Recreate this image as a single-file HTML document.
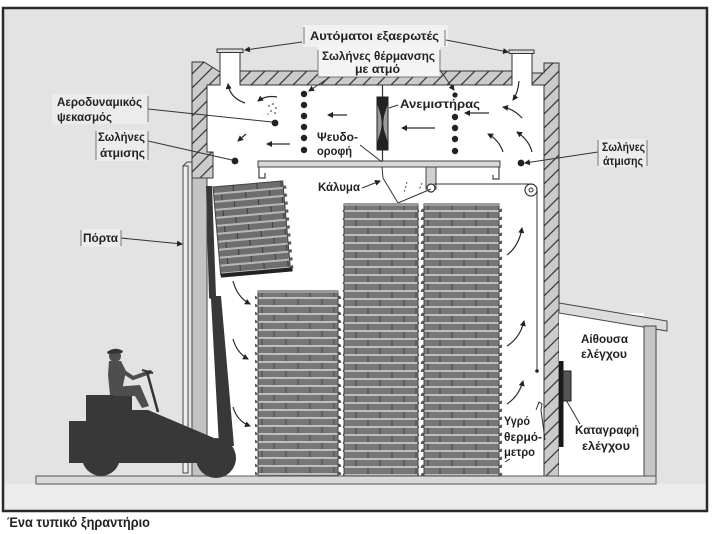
<!DOCTYPE html>
<html>
<head>
<meta charset="utf-8">
<style>
html,body{margin:0;padding:0;background:#fff;}
svg{display:block;}
</style>
</head>
<body>
<svg width="712" height="534" viewBox="0 0 712 534" xmlns="http://www.w3.org/2000/svg">
<defs>
  <pattern id="hatch" width="14" height="14" patternUnits="userSpaceOnUse">
    <rect width="14" height="14" fill="#cbcbcb"/>
    <path d="M-3,3 L3,-3 M0,14 L14,0 M11,17 L17,11" stroke="#3a3a3a" stroke-width="1.3"/>
  </pattern>
  <pattern id="bdA" x="0" y="204" width="48" height="16" patternUnits="userSpaceOnUse">
    <rect width="48" height="16" fill="#777"/>
    <rect y="6" width="48" height="2" fill="#bebebe"/>
    <rect y="14" width="48" height="2" fill="#bebebe"/>
    <path d="M20,0 V6 M44,0 V6 M8,8 V14 M32,8 V14" stroke="#444" stroke-width="1"/>
  </pattern>
  <pattern id="bdC" x="2" y="291" width="48" height="16" patternUnits="userSpaceOnUse">
    <rect width="48" height="16" fill="#777"/>
    <rect y="6" width="48" height="2" fill="#bebebe"/>
    <rect y="14" width="48" height="2" fill="#bebebe"/>
    <path d="M20,0 V6 M44,0 V6 M8,8 V14 M32,8 V14" stroke="#444" stroke-width="1"/>
  </pattern>
  <pattern id="bdT" x="213" y="187" width="48" height="16" patternUnits="userSpaceOnUse">
    <rect width="48" height="16" fill="#6e6e6e"/>
    <rect y="6" width="48" height="2" fill="#b8b8b8"/>
    <rect y="14" width="48" height="2" fill="#b8b8b8"/>
    <path d="M20,0 V6 M44,0 V6 M8,8 V14 M32,8 V14" stroke="#3c3c3c" stroke-width="1"/>
  </pattern>
  <pattern id="bumpA" x="0" y="204" width="6" height="8" patternUnits="userSpaceOnUse">
    <circle cx="3" cy="7" r="2.2" fill="#5a5a5a"/>
  </pattern>
  <pattern id="bumpC" x="0" y="291" width="6" height="8" patternUnits="userSpaceOnUse">
    <circle cx="3" cy="7" r="2.2" fill="#5a5a5a"/>
  </pattern>
  <pattern id="bumpT" x="0" y="187" width="6" height="8" patternUnits="userSpaceOnUse">
    <circle cx="3" cy="7" r="2.2" fill="#5a5a5a"/>
  </pattern>
  <marker id="ah" markerWidth="6" markerHeight="6" refX="5" refY="3" orient="auto" markerUnits="userSpaceOnUse">
    <path d="M0,0 L6,3 L0,6 z" fill="#222"/>
  </marker>
</defs>

<!-- page + frame -->
<rect width="712" height="534" fill="#fff"/>
<rect x="3" y="8" width="704" height="503" fill="#e3e3e3" stroke="#2a2a2a" stroke-width="2.5"/>
<rect x="4.5" y="484" width="701" height="25.5" fill="#ececec"/>

<!-- label patches (lighter paper) -->
<rect x="303" y="25" width="145" height="22" fill="#f1f1f1"/>
<rect x="318" y="46" width="122" height="31" fill="#f4f4f4"/>
<rect x="52" y="94" width="96" height="30" fill="#ececec"/>
<rect x="96" y="130" width="52" height="31" fill="#ececec"/>
<rect x="81" y="229" width="40" height="18" fill="#ececec"/>
<rect x="598" y="139" width="49" height="28" fill="#ececec"/>

<!-- kiln interior -->
<rect x="207" y="85" width="337" height="391" fill="#fff"/>
<!-- exhaust pipes -->
<rect x="220" y="52" width="20" height="33" fill="#fff" stroke="#333" stroke-width="1"/>
<rect x="217" y="49" width="26" height="3.5" fill="#ddd" stroke="#333" stroke-width="1"/>
<rect x="512" y="53" width="20" height="32" fill="#fff" stroke="#333" stroke-width="1"/>
<rect x="509" y="50" width="25" height="3.5" fill="#ddd" stroke="#333" stroke-width="1"/>
<rect x="219" y="84" width="22" height="2" fill="#fff"/>
<rect x="511" y="84" width="22" height="2" fill="#fff"/>

<!-- roof -->
<rect x="240" y="71" width="272" height="14" fill="url(#hatch)" stroke="#333" stroke-width="1"/>
<rect x="318.5" y="66" width="121" height="11" fill="#f4f4f4"/>
<line x1="318" y1="77" x2="440" y2="77" stroke="#555" stroke-width="0.8"/>

<!-- left wall -->
<polygon points="192,62 204,62 220,72 220,85 207,85 207,152 213,152 213,178 192,178" fill="url(#hatch)" stroke="#333" stroke-width="1"/>
<rect x="192" y="178" width="15" height="298" fill="#c3c3c3" stroke="#444" stroke-width="1"/>
<!-- door -->
<rect x="183" y="166" width="5" height="307" fill="#efefef" stroke="#444" stroke-width="1"/>
<path d="M183,166 L187,162 L192,162" fill="none" stroke="#444" stroke-width="1"/>

<!-- right wall -->
<polygon points="532,73 544,73 544,63 559,63 559,478 544,478 544,85 532,85" fill="url(#hatch)" stroke="#333" stroke-width="1"/>

<!-- control room -->
<rect x="559" y="313" width="85" height="163" fill="#fff"/>
<polygon points="559,303 667,321 667,331 559,313" fill="#dcdcdc" stroke="#444" stroke-width="1"/>
<rect x="644" y="326" width="12" height="150" fill="#c6c6c6" stroke="#444" stroke-width="1"/>
<rect x="559" y="361" width="4.5" height="86" fill="#1a1a1a"/>
<rect x="563" y="371" width="8" height="30" fill="#555" stroke="#222" stroke-width="1"/>
<line x1="566" y1="400" x2="580" y2="424" stroke="#333" stroke-width="1"/>

<!-- floor -->
<rect x="36" y="476" width="620" height="8" fill="#d9d9d9" stroke="#555" stroke-width="1"/>

<!-- false ceiling -->
<rect x="258" y="161" width="242" height="6" fill="#d8d8d8" stroke="#444" stroke-width="1"/>
<path d="M259,167 L259,178 L265,178 L265,173" fill="none" stroke="#444" stroke-width="1.2"/>
<path d="M499,167 L499,179 L493,179 L493,175" fill="none" stroke="#444" stroke-width="1.2"/>

<!-- fan -->
<line x1="382.5" y1="85" x2="382.5" y2="97" stroke="#333" stroke-width="1.2"/>
<line x1="382.5" y1="150" x2="382.5" y2="161" stroke="#333" stroke-width="1.2"/>
<rect x="377" y="97" width="11" height="53" fill="#9a9a9a" stroke="#222" stroke-width="1"/>
<path d="M377,97 L388,97 L388,103 L384,116 L383.2,123 L384,130 L388,143 L388,150 L377,150 L377,143 L381,130 L381.8,123 L381,116 L377,103 Z" fill="#222"/>

<!-- heating pipe dots -->
<g fill="#222">
  <circle cx="304" cy="94" r="3.2"/><circle cx="304" cy="105" r="3.2"/><circle cx="304" cy="116" r="3.2"/>
  <circle cx="304" cy="127" r="3.2"/><circle cx="304" cy="138" r="3.2"/><circle cx="304" cy="150" r="3.2"/>
  <circle cx="455" cy="95" r="2.6"/><circle cx="455" cy="117" r="3.2"/><circle cx="455" cy="128" r="3.2"/>
  <circle cx="455" cy="139" r="3.2"/><circle cx="455" cy="151" r="3.2"/>
  <circle cx="275" cy="123" r="3.4"/>
  <circle cx="235" cy="161" r="3.4"/>
  <circle cx="521" cy="163" r="3.4"/>
</g>
<!-- spray cloud -->
<g fill="#777">
  <circle cx="269" cy="106" r="1"/><circle cx="273" cy="104" r="1"/><circle cx="276" cy="108" r="1"/>
  <circle cx="271" cy="111" r="1"/><circle cx="275" cy="113" r="1"/><circle cx="268" cy="114" r="0.8"/>
</g>

<!-- hanger + pulleys -->
<rect x="426" y="167" width="10" height="22" fill="#d0d0d0" stroke="#444" stroke-width="1"/>
<circle cx="431" cy="188" r="4" fill="#fff" stroke="#333" stroke-width="1.2"/>
<line x1="434" y1="184" x2="530" y2="184" stroke="#333" stroke-width="1"/>
<circle cx="531" cy="190" r="6" fill="#fff" stroke="#333" stroke-width="1.2"/>
<circle cx="531" cy="190" r="2" fill="none" stroke="#333" stroke-width="1"/>
<line x1="537" y1="190" x2="537" y2="370" stroke="#333" stroke-width="1"/>
<circle cx="537" cy="371" r="1.8" fill="#222"/>
<!-- thermometer -->
<path d="M536,410 L539,402 L542,404 L541,410 Q543,425 545,440" fill="none" stroke="#333" stroke-width="1"/>

<!-- cover lines -->
<path d="M382,167 L383,178 L398,203 L431,189" fill="none" stroke="#333" stroke-width="1"/>
<path d="M407,182 L404,193 M422,183 L419,190" stroke="#555" stroke-width="1" stroke-dasharray="2,2"/>

<!-- stacks: bumps -->
<rect x="341" y="205" width="6" height="271" fill="url(#bumpA)"/>
<rect x="415" y="205" width="6" height="271" fill="url(#bumpA)"/>
<rect x="421" y="205" width="6" height="271" fill="url(#bumpA)"/>
<rect x="496" y="205" width="6" height="271" fill="url(#bumpA)"/>
<rect x="255" y="292" width="6" height="184" fill="url(#bumpC)"/>
<rect x="335" y="292" width="6" height="184" fill="url(#bumpC)"/>
<!-- stacks -->
<rect x="344" y="204" width="74" height="272" fill="url(#bdA)" stroke="#444" stroke-width="1"/>
<rect x="424" y="204" width="75" height="272" fill="url(#bdA)" stroke="#444" stroke-width="1"/>
<rect x="258" y="291" width="80" height="185" fill="url(#bdC)" stroke="#444" stroke-width="1"/>
<rect x="344" y="203" width="74" height="3" fill="#9a9a9a"/>
<rect x="424" y="203" width="75" height="3" fill="#9a9a9a"/>
<rect x="258" y="290" width="80" height="3" fill="#9a9a9a"/>

<!-- tilted stack on forklift -->
<g transform="rotate(-5 213 187)">
  <rect x="280" y="187" width="6" height="88" fill="url(#bumpT)"/>
  <rect x="213" y="187" width="70" height="88" fill="url(#bdT)" stroke="#444" stroke-width="1"/>
  <rect x="213" y="274" width="72" height="4" fill="#222"/>
</g>

<!-- forklift -->
<g fill="#383838">
  <polygon points="206,186 212,186 216,296 221,296 234,446 219,446 211,299 209,298"/>
  <polygon points="69,421 86,421 86,395 132,395 132,410 148,410 214,438 222,450 222,463 69,463"/>
  <circle cx="101" cy="457" r="19"/>
  <circle cx="216" cy="458" r="20"/>
</g>
<!-- driver -->
<g fill="#4e4e4e" stroke="none">
  <circle cx="115" cy="356" r="6"/>
  <path d="M107,352 Q115,346 123,351 L122,353 L108,354 Z" fill="#333"/>
  <polygon points="109,361 121,361 126,371 121,395 110,395 108,375"/>
  <polygon points="114,387 140,385 149,406 142,408 135,396 114,396"/>
</g>
<path d="M118,368 L133,378 L150,372" fill="none" stroke="#4e4e4e" stroke-width="4" stroke-linecap="round"/>
<line x1="147" y1="372" x2="158" y2="412" stroke="#333" stroke-width="2.5"/>
<line x1="142" y1="370" x2="153" y2="373" stroke="#333" stroke-width="2"/>

<!-- air flow arrows -->
<g fill="none" stroke="#2a2a2a" stroke-width="1.2" marker-end="url(#ah)">
  <path d="M245,103 Q230,98 228,84"/>
  <path d="M277,97 Q266,95 258,101"/>
  <path d="M246,134 L238,141"/>
  <path d="M290,144 L267,144"/>
  <path d="M347,115 L328,115"/>
  <path d="M435,128 L402,128"/>
  <path d="M489,113 L465,113"/>
  <path d="M519,81 Q518,93 513,100"/>
  <path d="M522,118 Q514,109 503,107"/>
  <path d="M503,152 Q499,140 488,134"/>
  <path d="M532,152 Q529,140 517,132"/>
  <path d="M233,281 Q237,297 250,304"/>
  <path d="M233,339 Q237,353 248,359"/>
  <path d="M233,407 Q237,421 250,426"/>
  <path d="M507,346 Q520,338 524,321"/>
  <path d="M507,404 Q519,396 523,381"/>
  <path d="M507,255 Q519,246 522,228"/>
</g>
<path d="M505,462 L510,459" stroke="#333" stroke-width="1"/>

<!-- leaders -->
<g fill="none" stroke="#333" stroke-width="1">
  <path d="M302,42 L245,50" marker-end="url(#ah)"/>
  <path d="M446,40 L508,52" marker-end="url(#ah)"/>
  <path d="M330,77 L309,91" marker-end="url(#ah)"/>
  <path d="M440,70 L454,90" marker-end="url(#ah)"/>
  <path d="M389,108 L398,105"/>
  <path d="M148,109 L272,122"/>
  <path d="M148,141 L232,160"/>
  <path d="M360,145 L382,162"/>
  <path d="M362,188 L380,181" marker-end="url(#ah)"/>
  <path d="M598,152 L525,163" marker-end="url(#ah)"/>
  <path d="M121,238 L182,244" marker-end="url(#ah)"/>
</g>
<!-- label bracket ticks -->
<g stroke="#777" stroke-width="1">
  <line x1="304" y1="27" x2="304" y2="44"/>
  <line x1="445" y1="30" x2="445" y2="46"/>
  <line x1="318" y1="50" x2="318" y2="76"/>
  <line x1="440" y1="50" x2="440" y2="70"/>
  <line x1="148" y1="96" x2="148" y2="122"/>
  <line x1="96" y1="131" x2="96" y2="160"/>
  <line x1="148" y1="131" x2="148" y2="160"/>
  <line x1="81" y1="230" x2="81" y2="246"/>
  <line x1="121" y1="230" x2="121" y2="246"/>
  <line x1="598" y1="140" x2="598" y2="166"/>
  <line x1="647" y1="140" x2="647" y2="166"/>
</g>

<!-- labels -->
<g font-family="'Liberation Sans','DejaVu Sans',sans-serif" font-size="12" font-weight="bold" fill="#222">
  <text x="310" y="40" textLength="129" lengthAdjust="spacingAndGlyphs">Αυτόματοι  εξαερωτές</text>
  <text x="322" y="60" textLength="113" lengthAdjust="spacingAndGlyphs">Σωλήνες θέρμανσης</text>
  <text x="355" y="73" textLength="45" lengthAdjust="spacingAndGlyphs">με ατμό</text>
  <text x="400" y="108" textLength="80" lengthAdjust="spacingAndGlyphs">Ανεμιστήρας</text>
  <text x="57" y="106" textLength="85" lengthAdjust="spacingAndGlyphs">Αεροδυναμικός</text>
  <text x="57" y="121" textLength="55" lengthAdjust="spacingAndGlyphs">ψεκασμός</text>
  <text x="98" y="141" textLength="47" lengthAdjust="spacingAndGlyphs">Σωλήνες</text>
  <text x="100" y="157" textLength="45" lengthAdjust="spacingAndGlyphs">άτμισης</text>
  <text x="317" y="141" textLength="41" lengthAdjust="spacingAndGlyphs">Ψευδο-</text>
  <text x="317" y="155" textLength="35" lengthAdjust="spacingAndGlyphs">οροφή</text>
  <text x="318" y="191" textLength="42" lengthAdjust="spacingAndGlyphs">Κάλυμα</text>
  <text x="602" y="151" textLength="43" lengthAdjust="spacingAndGlyphs">Σωλήνες</text>
  <text x="603" y="165" textLength="40" lengthAdjust="spacingAndGlyphs">άτμισης</text>
  <text x="83" y="242" textLength="35" lengthAdjust="spacingAndGlyphs">Πόρτα</text>
  <text x="581" y="343" textLength="47" lengthAdjust="spacingAndGlyphs">Αίθουσα</text>
  <text x="581" y="358" textLength="46" lengthAdjust="spacingAndGlyphs">ελέγχου</text>
  <text x="504" y="425" textLength="26" lengthAdjust="spacingAndGlyphs">Υγρό</text>
  <text x="504" y="441" textLength="38" lengthAdjust="spacingAndGlyphs">θερμό-</text>
  <text x="504" y="456" textLength="31" lengthAdjust="spacingAndGlyphs">μετρο</text>
  <text x="575" y="434" textLength="64" lengthAdjust="spacingAndGlyphs">Καταγραφή</text>
  <text x="582" y="450" textLength="48" lengthAdjust="spacingAndGlyphs">ελέγχου</text>
  <text x="7" y="527" font-size="13.5" textLength="143" lengthAdjust="spacingAndGlyphs">Ένα  τυπικό  ξηραντήριο</text>
</g>
</svg>
</body>
</html>
